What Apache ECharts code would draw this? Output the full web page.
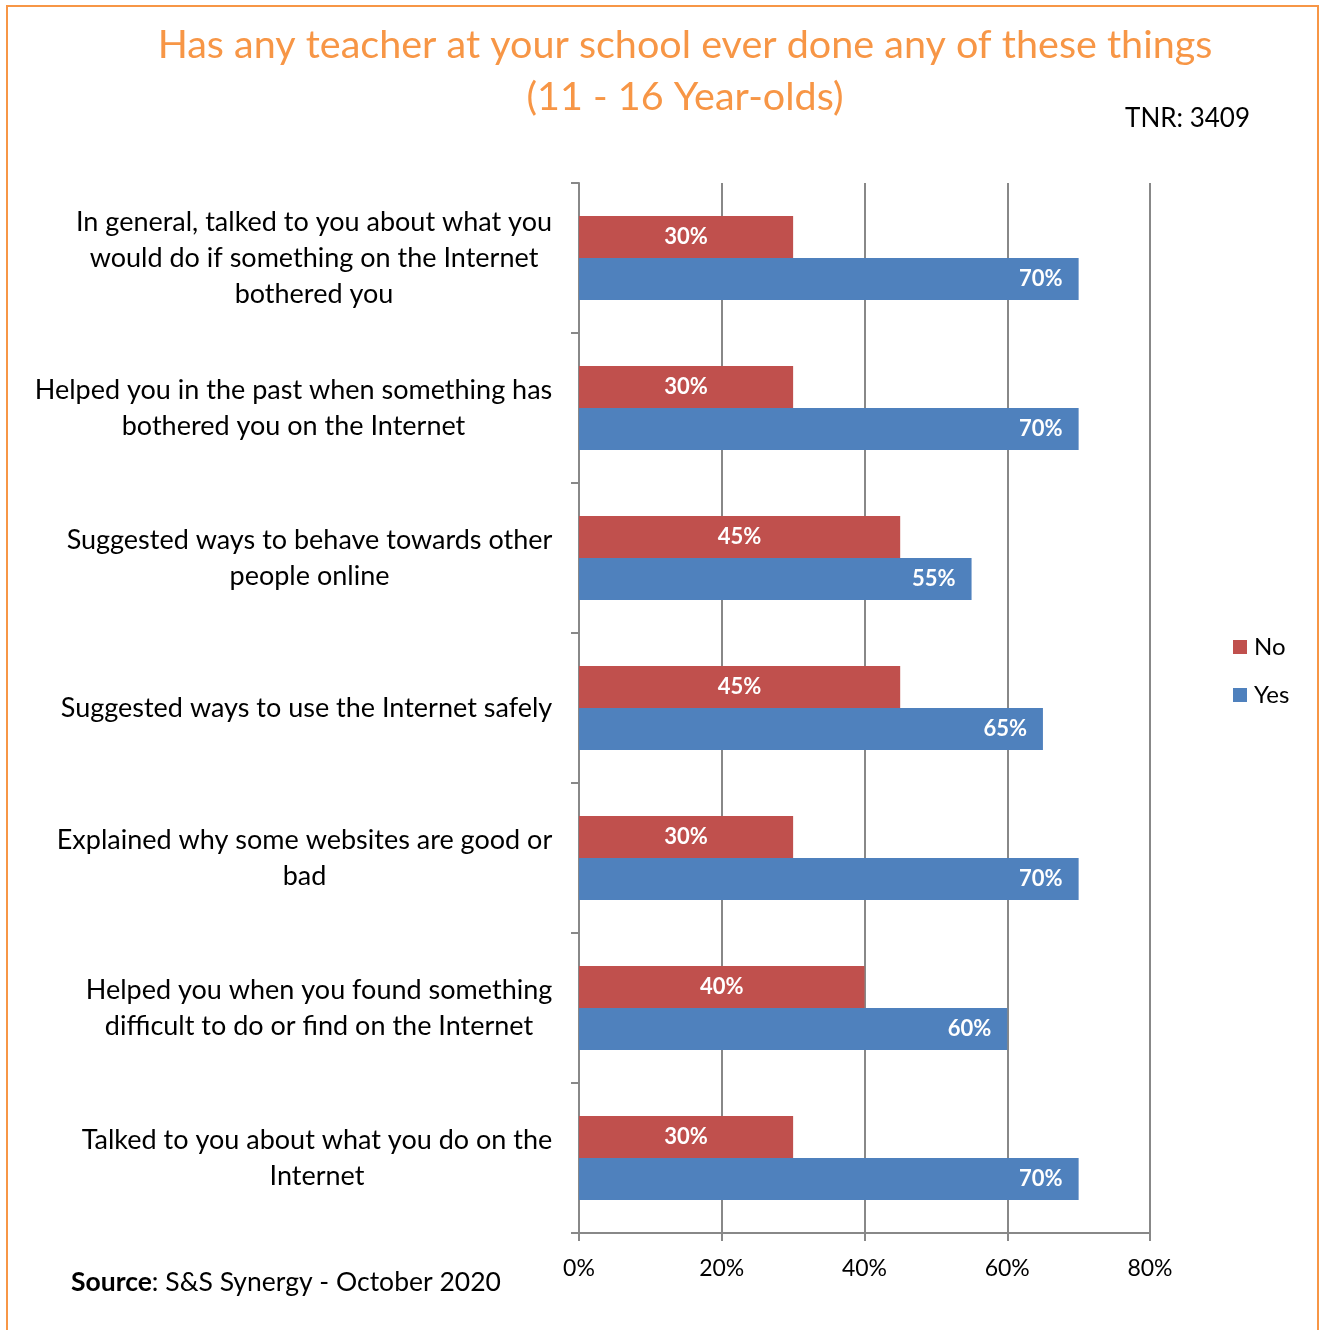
<!DOCTYPE html>
<html>
<head>
<meta charset="utf-8">
<script src="https://cdn.jsdelivr.net/npm/echarts@6/dist/echarts.min.js"></script>
<style>
html,body{margin:0;padding:0;background:#fff;}
#chart{width:1322px;height:1330px;}
</style>
</head>
<body>
<div id="chart"></div>
<script>
const categories = [
  'In general, talked to you about what you\nwould do if something on the Internet\nbothered you',
  'Helped you in the past when something has\nbothered you on the Internet',
  'Suggested ways to behave towards other\npeople online',
  'Suggested ways to use the Internet safely',
  'Explained why some websites are good or\nbad',
  'Helped you when you found something\ndifficult to do or find on the Internet',
  'Talked to you about what you do on the\nInternet'
];
const noValues = [30, 30, 45, 45, 30, 40, 30];
const yesValues = [70, 70, 55, 65, 70, 60, 70];
const xTicks = [0, 20, 40, 60, 80];

const FONT = 'Lato';
const CAT_SIZE = 27;

// measure each label block so its lines can be centred within a right-aligned block
const ctx = document.createElement('canvas').getContext('2d');
ctx.font = CAT_SIZE + 'px ' + FONT;
const rich = {};
categories.forEach((c, i) => {
  const w = Math.max(...c.split('\n').map(l => ctx.measureText(l).width));
  rich['w' + i] = {width: Math.ceil(w) + 1, align: 'center', fontFamily: FONT, fontSize: CAT_SIZE, lineHeight: 36, color: '#000'};
});

const chart = echarts.init(document.getElementById('chart'), null, {renderer: 'canvas'});
chart.setOption({
  backgroundColor: '#fff',
  animation: false,
  title: {
    text: 'Has any teacher at your school ever done any of these things\n(11 - 16 Year-olds)',
    left: 680, top: 14, textAlign: 'center',
    textStyle: {color: '#F79646', fontFamily: FONT, fontWeight: 'normal', fontSize: 39.5, lineHeight: 52}
  },
  legend: {
    orient: 'vertical', left: 1228, top: 630, itemWidth: 14, itemHeight: 14, itemGap: 24,
    icon: 'rect',
    textStyle: {fontFamily: FONT, fontSize: 24, color: '#000', padding: [0, 0, 0, 2]},
    data: ['No', 'Yes']
  },
  grid: {left: 579, right: 172, top: 183, bottom: 97, containLabel: false},
  xAxis: {
    type: 'value', min: 0, max: 80, interval: 20,
    axisLine: {show: true, lineStyle: {color: '#888', width: 2}},
    axisTick: {show: true, length: 8, lineStyle: {color: '#888', width: 2}},
    splitLine: {show: true, lineStyle: {color: '#888', width: 2}},
    axisLabel: {formatter: v => xTicks.includes(v) ? v + '%' : '', fontFamily: FONT, fontSize: 23, color: '#000', margin: 24}
  },
  yAxis: {
    type: 'category', data: categories, inverse: true,
    axisLine: {show: true, lineStyle: {color: '#888', width: 2}},
    axisTick: {show: true, length: 8, lineStyle: {color: '#888', width: 2}},
    axisLabel: {
      formatter: (v, i) => v.split('\n').map(l => '{w' + i + '|' + l + '}').join('\n'),
      rich: rich,
      fontFamily: FONT, fontSize: CAT_SIZE, lineHeight: 36, color: '#000', margin: 26, align: 'right'
    }
  },
  series: [
    {
      name: 'No', type: 'bar', data: noValues, barWidth: 42, barGap: '0%',
      itemStyle: {color: '#C0504D'},
      label: {show: true, position: 'inside', formatter: '{c}%', color: '#fff', fontFamily: FONT, fontWeight: 'bold', fontSize: 22}
    },
    {
      name: 'Yes', type: 'bar', data: yesValues, barWidth: 42, barGap: '0%',
      itemStyle: {color: '#4F81BD'},
      label: {show: true, position: 'insideRight', distance: 16, formatter: '{c}%', color: '#fff', fontFamily: FONT, fontWeight: 'bold', fontSize: 22}
    }
  ],
  graphic: [
    {type: 'rect', shape: {x: 7, y: 6, width: 1311, height: 1340}, style: {fill: 'none', stroke: '#F79646', lineWidth: 2}, silent: true, z: 100},
    {type: 'text', x: 1250, y: 119, style: {text: 'TNR: 3409', fontFamily: FONT, fontSize: 26, fill: '#000', textAlign: 'right', textVerticalAlign: 'middle'}},
    {type: 'text', x: 71, y: 1282, style: {
      text: '{b|Source}: S&S Synergy - October 2020',
      rich: {b: {fontWeight: 'bold', fontFamily: FONT, fontSize: 26.5, fill: '#000'}},
      fontFamily: FONT, fontSize: 26.5, fill: '#000', textAlign: 'left', textVerticalAlign: 'middle'}}
  ]
});
</script>
</body>
</html>
